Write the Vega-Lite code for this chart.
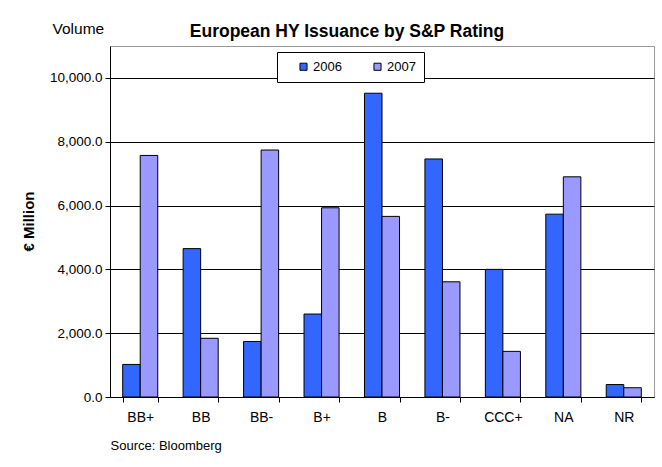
{
  "$schema": "https://vega.github.io/schema/vega-lite/v6.json",
  "width": 544,
  "height": 351,
  "autosize": {"type": "none"},
  "padding": {"left": 110, "top": 46, "right": 8, "bottom": 70},
  "background": "white",
  "config": {
    "font": "Liberation Sans",
    "view": {"stroke": "#999999", "strokeWidth": 1}
  },
  "title": {
    "text": "European HY Issuance by S&P Rating",
    "font": "Liberation Sans",
    "fontSize": 17.5,
    "fontWeight": "bold",
    "color": "black",
    "anchor": "middle",
    "frame": "group",
    "dx": -35,
    "offset": -19
  },
  "data": {
    "values": [
      {"rating": "BB+", "year": "2006", "volume": 1020},
      {"rating": "BB+", "year": "2007", "volume": 7570},
      {"rating": "BB", "year": "2006", "volume": 4650},
      {"rating": "BB", "year": "2007", "volume": 1840},
      {"rating": "BB-", "year": "2006", "volume": 1740},
      {"rating": "BB-", "year": "2007", "volume": 7740},
      {"rating": "B+", "year": "2006", "volume": 2600},
      {"rating": "B+", "year": "2007", "volume": 5930},
      {"rating": "B", "year": "2006", "volume": 9520},
      {"rating": "B", "year": "2007", "volume": 5660},
      {"rating": "B-", "year": "2006", "volume": 7460},
      {"rating": "B-", "year": "2007", "volume": 3610},
      {"rating": "CCC+", "year": "2006", "volume": 4000},
      {"rating": "CCC+", "year": "2007", "volume": 1430},
      {"rating": "NA", "year": "2006", "volume": 5730},
      {"rating": "NA", "year": "2007", "volume": 6900},
      {"rating": "NR", "year": "2006", "volume": 390},
      {"rating": "NR", "year": "2007", "volume": 290}
    ]
  },
  "layer": [
    {
      "mark": {"type": "bar", "stroke": "black", "strokeWidth": 1},
      "encoding": {
        "x": {
          "field": "rating",
          "type": "nominal",
          "sort": ["BB+", "BB", "BB-", "B+", "B", "B-", "CCC+", "NA", "NR"],
          "scale": {"paddingInner": 0.42, "paddingOuter": 0.21},
          "axis": {
            "orient": "bottom",
            "labelAngle": 0,
            "labelFontSize": 14,
            "labelColor": "black",
            "labelPadding": 8,
            "domainColor": "black",
            "tickColor": "black",
            "tickSize": 5,
            "tickBand": "extent",
            "grid": false,
            "title": "Source: Bloomberg",
            "titleFontSize": 13,
            "titleFontWeight": "normal",
            "titleColor": "black",
            "titleAlign": "left",
            "titleBaseline": "middle",
            "titleX": 0,
            "titleY": 48
          }
        },
        "xOffset": {
          "field": "year",
          "type": "nominal",
          "scale": {"paddingInner": 0, "paddingOuter": 0}
        },
        "y": {
          "field": "volume",
          "type": "quantitative",
          "scale": {"domain": [0, 11000], "nice": false},
          "axis": {
            "values": [0, 2000, 4000, 6000, 8000, 10000],
            "format": ",.1f",
            "labelFontSize": 13.5,
            "labelColor": "black",
            "labelPadding": 3,
            "domainColor": "black",
            "tickColor": "black",
            "tickSize": 5,
            "grid": true,
            "gridColor": "black",
            "gridOpacity": 1,
            "title": "€ Million",
            "titleFontSize": 15,
            "titleFontWeight": "bold",
            "titleColor": "black",
            "titleAngle": -90,
            "titleAlign": "center",
            "titleBaseline": "middle",
            "titleX": -82,
            "titleY": 175
          }
        },
        "color": {
          "field": "year",
          "type": "nominal",
          "scale": {"domain": ["2006", "2007"], "range": ["#3366FF", "#9999FF"]},
          "legend": {
            "orient": "none",
            "legendX": 167,
            "legendY": 6,
            "direction": "horizontal",
            "title": null,
            "strokeColor": "black",
            "fillColor": "white",
            "padding": 8,
            "symbolType": "square",
            "symbolSize": 50,
            "symbolStrokeColor": "black",
            "symbolStrokeWidth": 1,
            "symbolOffset": 12,
            "labelFontSize": 13,
            "labelColor": "black",
            "labelOffset": 3,
            "columnPadding": 17
          }
        }
      }
    },
    {
      "mark": {"type": "rule", "opacity": 0},
      "encoding": {
        "x": {
          "field": "rating",
          "type": "nominal",
          "sort": ["BB+", "BB", "BB-", "B+", "B", "B-", "CCC+", "NA", "NR"],
          "axis": {
            "orient": "top",
            "domain": false,
            "ticks": false,
            "labels": false,
            "grid": false,
            "title": "Volume",
            "titleFontSize": 15.5,
            "titleFontWeight": "normal",
            "titleColor": "black",
            "titleAlign": "left",
            "titleBaseline": "middle",
            "titleX": -58,
            "titleY": -18
          }
        }
      }
    }
  ],
  "resolve": {"axis": {"x": "independent"}}
}
